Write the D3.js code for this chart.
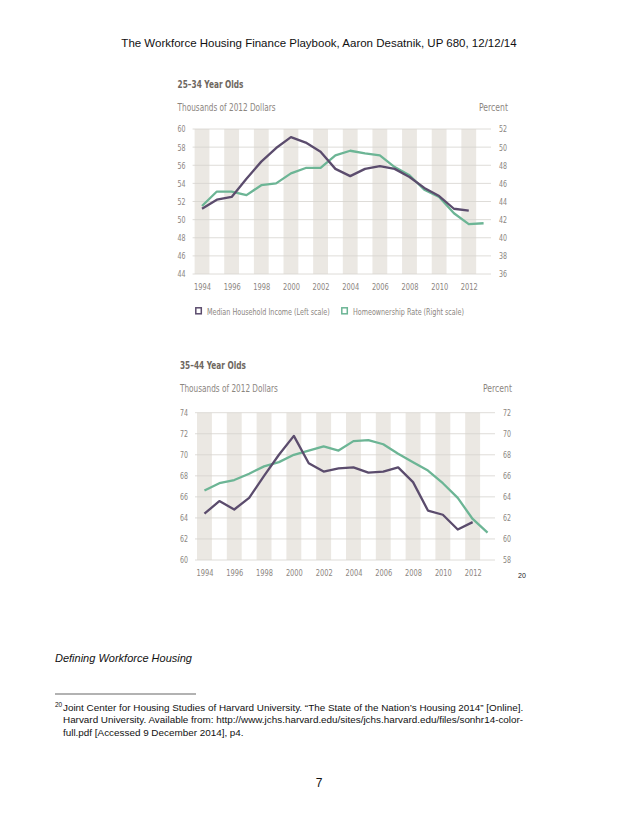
<html lang="en">
	<head>
		<meta charset="utf-8">
		<title>Workforce Housing Finance Playbook p7</title>
		<script src="https://d3js.org/d3.v7.min.js"></script>
		<style type="text/css">
			body {
				margin: 0;
				background-color: white;
			}
			.chart text {
				font-family: "DejaVu Sans Condensed", "DejaVu Sans", sans-serif;
				font-stretch: condensed;
				fill: #8c867f;
			}
		</style>
	</head>
	<body>
		<script type="text/javascript">

			//Data
			var years = [1994, 1995, 1996, 1997, 1998, 1999, 2000, 2001, 2002, 2003, 2004,
						 2005, 2006, 2007, 2008, 2009, 2010, 2011, 2012, 2013];
			var yearTicks = [1994, 1996, 1998, 2000, 2002, 2004, 2006, 2008, 2010, 2012];

			//25-34 year olds
			var income2534 = [51.2, 52.2, 52.5, 54.5, 56.4, 57.9, 59.1, 58.5, 57.5, 55.6, 54.8,
							  55.6, 55.9, 55.6, 54.7, 53.5, 52.6, 51.2, 51.0];
			var homeown2534 = [43.5, 45.1, 45.1, 44.7, 45.8, 46.0, 47.1, 47.7, 47.7, 49.1, 49.6,
							   49.3, 49.1, 47.8, 46.9, 45.3, 44.5, 42.7, 41.5, 41.6];
			var leftTicks2534 = [44, 46, 48, 50, 52, 54, 56, 58, 60];
			var rightTicks2534 = [36, 38, 40, 42, 44, 46, 48, 50, 52];

			//35-44 year olds
			var income3544 = [64.4, 65.6, 64.8, 65.9, 68.0, 70.0, 71.8, 69.2, 68.4, 68.7, 68.8,
							  68.3, 68.4, 68.8, 67.4, 64.7, 64.3, 62.9, 63.6];
			var homeown3544 = [64.6, 65.3, 65.6, 66.2, 66.9, 67.3, 68.0, 68.4, 68.8, 68.4, 69.3,
							   69.4, 69.0, 68.1, 67.3, 66.5, 65.3, 63.9, 61.9, 60.6];
			var leftTicks3544 = [60, 62, 64, 66, 68, 70, 72, 74];
			var rightTicks3544 = [58, 60, 62, 64, 66, 68, 70, 72];

			var legendItems = ["Median Household Income (Left scale)", "Homeownership Rate (Right scale)"];

			var incomeColor = "#5b4c6d";
			var homeColor = "#6cb595";

			var w = 638;
			var h = 826;

			var svg = d3.select("body")
						.append("svg")
						.attr("width", w)
						.attr("height", h);

			//no condensed font installed, so squeeze text horizontally
			function squeeze(sel, k) {
				sel.each(function() {
					var len = this.getComputedTextLength();
					d3.select(this)
						.attr("textLength", len * k)
						.attr("lengthAdjust", "spacingAndGlyphs");
				});
			}

			//put a text in a group and scale it to a given width
			function fitText(parent, x, y, width, anchor, size, bold, txt) {
				var holder = parent.append("g");
				var t = holder.append("text")
					.attr("x", 0).attr("y", 0)
					.attr("text-anchor", anchor)
					.attr("font-size", size)
					.attr("font-weight", bold ? "bold" : "normal")
					.text(txt);
				var k = width / t.node().getComputedTextLength();
				holder.attr("transform", "translate(" + x + "," + y + ") scale(" + k + ",1)");
				return t;
			}

			//Page text
			svg.append("text")
				.attr("x", 319)
				.attr("y", 47)
				.attr("text-anchor", "middle")
				.attr("font-family", "Liberation Sans, Arial, sans-serif")
				.attr("font-size", "11.5px")
				.attr("fill", "#111")
				.text("The Workforce Housing Finance Playbook, Aaron Desatnik, UP 680, 12/12/14");

			function drawPanel(opts) {
				var g = svg.append("g").attr("class", "chart");

				var xScale = d3.scaleLinear()
						.domain([1993.5, 2013.5])
						.range([opts.left, opts.right]);

				var yLeft = d3.scaleLinear()
						.domain(d3.extent(opts.leftTicks))
						.range([opts.bottom, opts.top]);

				var yRight = d3.scaleLinear()
						.domain(d3.extent(opts.rightTicks))
						.range([opts.bottom, opts.top]);

				//Grey bands at even years
				g.selectAll("rect.band")
				   .data(yearTicks)
				   .enter()
				   .append("rect")
				   .attr("class", "band")
				   .attr("x", function(d) { return xScale(d - 0.5); })
				   .attr("width", function(d) { return xScale(d + 0.5) - xScale(d - 0.5); })
				   .attr("y", opts.top)
				   .attr("height", opts.bottom - opts.top)
				   .attr("fill", "#ebe8e3");

				//Gridlines
				g.selectAll("line.grid")
				   .data(opts.leftTicks)
				   .enter()
				   .append("line")
				   .attr("x1", opts.left - 2)
				   .attr("x2", opts.right)
				   .attr("y1", function(d) { return yLeft(d); })
				   .attr("y2", function(d) { return yLeft(d); })
				   .attr("stroke", "#d6d3ce")
				   .attr("stroke-width", 0.8);

				//Left axis
				var leftAxis = d3.axisLeft(yLeft)
						.tickValues(opts.leftTicks)
						.tickSize(0)
						.tickPadding(9);
				g.append("g")
					.attr("transform", "translate(" + opts.left + ",0)")
					.call(leftAxis)
					.call(function(a) { a.select(".domain").remove(); })
					.selectAll("text")
					.attr("font-size", "9px")
					.attr("fill", "#a29c94");

				//Right axis
				var rightAxis = d3.axisRight(yRight)
						.tickValues(opts.rightTicks)
						.tickSize(0)
						.tickPadding(8);
				g.append("g")
					.attr("transform", "translate(" + opts.right + ",0)")
					.call(rightAxis)
					.call(function(a) { a.select(".domain").remove(); })
					.selectAll("text")
					.attr("font-size", "9px")
					.attr("fill", "#a29c94");

				//Bottom axis
				var xAxis = d3.axisBottom(xScale)
						.tickValues(yearTicks)
						.tickFormat(d3.format("d"))
						.tickSize(0)
						.tickPadding(9);
				g.append("g")
					.attr("transform", "translate(0," + opts.bottom + ")")
					.call(xAxis)
					.call(function(a) { a.select(".domain").remove(); })
					.selectAll("text")
					.attr("font-size", "9.5px")
					.attr("fill", "#a29c94");

				squeeze(g.selectAll(".tick text"), 0.78);

				//Lines
				var incomeLine = d3.line()
						.x(function(d, i) { return xScale(years[i]); })
						.y(function(d) { return yLeft(d); });
				var homeLine = d3.line()
						.x(function(d, i) { return xScale(years[i]); })
						.y(function(d) { return yRight(d); });

				g.append("path")
					.datum(opts.home)
					.attr("d", homeLine)
					.attr("fill", "none")
					.attr("stroke", homeColor)
					.attr("stroke-width", 2.3)
					.attr("stroke-linejoin", "round");

				g.append("path")
					.datum(opts.income)
					.attr("d", incomeLine)
					.attr("fill", "none")
					.attr("stroke", incomeColor)
					.attr("stroke-width", 2.3)
					.attr("stroke-linejoin", "round");

				//Titles
				fitText(g, opts.left - 17, opts.titleY, 66, "start", "10.5px", true, opts.title)
					.style("fill", "#6e6760");
				fitText(g, opts.left - 17, opts.titleY + 23, 98, "start", "10.5px", false, "Thousands of 2012 Dollars");
				fitText(g, opts.right + 17, opts.titleY + 23, 29, "end", "10.5px", false, "Percent");

				return g;
			}

			var topPanel = drawPanel({
				title: "25\u201334 Year Olds",
				titleY: 88,
				left: 194.6, right: 491, top: 129, bottom: 274,
				leftTicks: leftTicks2534, rightTicks: rightTicks2534,
				income: income2534, home: homeown2534
			});

			drawPanel({
				title: "35\u201344 Year Olds",
				titleY: 369,
				left: 197, right: 495, top: 412.7, bottom: 560,
				leftTicks: leftTicks3544, rightTicks: rightTicks3544,
				income: income3544, home: homeown3544
			});

			//Legend (top chart)
			var legendColors = [incomeColor, homeColor];
			var legendX = [195, 341];
			var legendW = [123, 111];

			legendItems.forEach(function(d, i) {
				topPanel.append("rect")
					.attr("x", legendX[i] + 0.8).attr("y", 307.8)
					.attr("width", 5.5).attr("height", 6)
					.attr("fill", "white")
					.attr("stroke", legendColors[i])
					.attr("stroke-width", 1.5);

				fitText(topPanel, legendX[i] + 12, 314.5, legendW[i], "start", "9.5px", false, d);
			});

			//Footnote marker near chart
			svg.append("text")
				.attr("x", 518).attr("y", 578)
				.attr("font-family", "Liberation Sans, Arial, sans-serif")
				.attr("font-size", "7px")
				.attr("fill", "#222")
				.text("20");

			svg.append("text")
				.attr("x", 55).attr("y", 662)
				.attr("font-family", "Liberation Sans, Arial, sans-serif")
				.attr("font-size", "11px")
				.attr("font-style", "italic")
				.attr("fill", "#111")
				.text("Defining Workforce Housing");

			svg.append("line")
				.attr("x1", 55).attr("x2", 196)
				.attr("y1", 694).attr("y2", 694)
				.attr("stroke", "#222")
				.attr("stroke-width", 0.7);

			svg.append("text")
				.attr("x", 55).attr("y", 707)
				.attr("font-family", "Liberation Sans, Arial, sans-serif")
				.attr("font-size", "6.5px")
				.attr("fill", "#111")
				.text("20");

			var footLines = [
				"Joint Center for Housing Studies of Harvard University. \u201cThe State of the Nation\u2019s Housing 2014\u201d [Online].",
				"Harvard University. Available from: http://www.jchs.harvard.edu/sites/jchs.harvard.edu/files/sonhr14-color-",
				"full.pdf [Accessed 9 December 2014], p4."
			];
			svg.selectAll("text.foot")
				.data(footLines)
				.enter()
				.append("text")
				.attr("class", "foot")
				.attr("x", 63)
				.attr("y", function(d, i) { return 711 + i * 12.3; })
				.attr("font-family", "Liberation Sans, Arial, sans-serif")
				.attr("font-size", "9.9px")
				.attr("fill", "#111")
				.text(function(d) { return d; });

			svg.append("text")
				.attr("x", 319).attr("y", 787)
				.attr("text-anchor", "middle")
				.attr("font-family", "Liberation Sans, Arial, sans-serif")
				.attr("font-size", "12px")
				.attr("fill", "#111")
				.text("7");

		</script>
	</body>
</html>
